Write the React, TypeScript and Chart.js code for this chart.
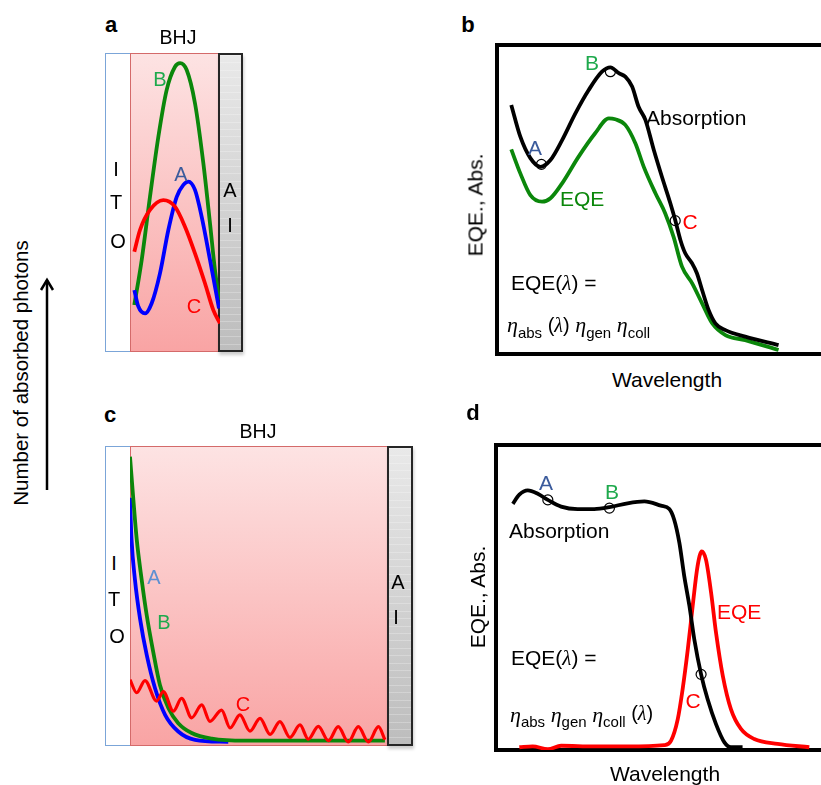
import React, { useEffect, useRef } from "react";
import { Chart, registerables } from "chart.js";
Chart.register(...registerables);

type P = [number, number];

// ---------- Panel a: absorbed photons vs. depth in BHJ (0 = ITO side, 100 = Al side) ----------
const aCurveB: P[] = [
  [4.8, 15.7], [13.0, 30.8], [22.2, 51.9], [31.5, 72.0], [40.7, 87.6], [50.0, 95.4],
  [55.6, 96.6], [63.0, 94.3], [72.2, 83.2], [81.5, 63.1], [88.9, 43.0], [94.4, 27.4], [98.9, 17.4],
];
const aCurveA: P[] = [
  [4.8, 20.7], [9.3, 15.2], [16.7, 12.9], [24.1, 16.3], [33.3, 26.3], [42.6, 40.8], [51.9, 51.9],
  [59.3, 55.9], [64.8, 57.0], [72.2, 54.2], [79.6, 45.3], [88.9, 30.8], [98.9, 14.6],
];
const aCurveC: P[] = [
  [4.8, 33.5], [11.1, 40.8], [22.2, 47.5], [37.0, 50.8], [50.0, 48.6], [61.1, 41.9],
  [72.2, 33.0], [83.3, 23.0], [92.6, 14.0], [100, 9.6],
];

// ---------- Panel b: EQE / absorption vs. wavelength ----------
const bAbsorption: P[] = [
  [4.4, 80.4], [7.2, 70.2], [10.3, 63.3], [13.4, 60.5], [16.5, 62.7], [20.1, 69.1], [24.2, 77.7],
  [28.3, 85.2], [32.4, 91.1], [35.0, 92.5], [37.6, 90.6], [39.6, 89.5], [41.7, 86.3], [43.7, 79.8],
  [45.8, 75.6], [48.4, 65.9], [50.9, 57.3], [53.5, 48.8], [55.0, 43.4], [56.6, 37.0], [58.1, 32.7],
  [60.2, 29.5], [61.7, 26.3], [63.3, 20.9], [65.3, 14.5], [67.4, 10.2], [70.5, 8.0], [76.6, 5.9],
  [86.9, 3.2],
];
const bEQE: P[] = [
  [4.4, 66.1], [7.2, 58.4], [10.3, 51.4], [13.9, 49.3], [16.5, 50.4], [20.1, 55.2], [25.2, 63.8],
  [30.3, 71.3], [34.5, 76.1], [36.5, 75.8], [39.6, 74.0], [42.7, 68.1], [45.3, 60.5], [48.9, 52.0],
  [51.9, 45.6], [54.5, 38.0], [57.1, 28.4], [60.2, 23.1], [63.3, 16.6], [66.4, 10.2], [70.5, 6.4],
  [76.6, 4.8], [86.9, 1.6],
];
const bMarkers: P[] = [[13.7, 61.3], [35.0, 91.1], [55.0, 43.2]];

// ---------- Panel c: absorbed photons vs. depth (thick BHJ) ----------
const cCurveB: P[] = [
  [0, 96.4], [1.3, 82.0], [2.6, 68.7], [4.5, 55.3], [6.5, 43.1], [9.0, 30.9], [11.6, 19.8],
  [14.9, 12.0], [18.7, 7.0], [23.9, 3.7], [31.7, 1.8], [44.6, 1.1], [64.0, 1.1], [98.8, 1.1],
];
const cCurveA: P[] = [
  [0, 82.6], [0.6, 68.7], [1.9, 55.3], [3.9, 42.0], [6.5, 29.8], [9.7, 18.7], [13.6, 9.8],
  [18.7, 4.2], [25.2, 1.4], [38.1, 0.7],
];
const cCurveC: P[] = [
  [0, 21.6], [2.6, 17.2], [5.8, 21.3], [10.3, 14.4], [12.9, 17.6], [16.8, 11.0], [20.0, 15.3],
  [23.9, 8.8], [27.8, 13.1], [31.0, 7.6], [35.5, 11.4], [38.8, 5.4], [42.6, 9.8], [46.5, 4.3],
  [50.4, 8.6], [54.3, 3.2], [58.1, 7.5], [62.0, 2.2], [65.9, 6.4], [69.1, 1.6], [73.0, 5.9],
  [76.9, 1.1], [80.7, 5.8], [84.6, 0.7], [88.5, 5.8], [92.4, 0.7], [96.3, 5.8], [98.8, 1.4],
];

// ---------- Panel d: EQE / absorption vs. wavelength ----------
const dAbsorption: P[] = [
  [5.2, 80.7], [7.2, 83.7], [9.8, 85.1], [12.9, 84.0], [16.0, 82.0], [20.1, 79.8], [25.2, 79.0],
  [30.3, 79.0], [35.0, 79.6], [40.6, 80.9], [45.8, 81.5], [50.9, 80.1], [53.5, 79.0], [55.0, 75.5],
  [56.6, 67.9], [58.1, 57.0], [59.7, 47.2], [61.2, 36.3], [63.3, 24.8], [65.3, 16.7], [67.9, 8.5],
  [70.5, 2.5], [72.5, 0.9], [76.1, 0.9],
];
const dEQE: P[] = [
  [7.2, 0.9], [11.3, 1.2], [16.0, 0.3], [20.1, 1.4], [30.3, 1.2], [40.6, 1.2], [51.9, 1.6],
  [54.0, 3.0], [56.1, 10.1], [57.6, 19.9], [59.2, 33.0], [60.7, 47.2], [62.2, 60.2], [63.5, 65.1],
  [64.8, 62.4], [66.4, 51.5], [67.9, 38.5], [70.0, 24.3], [72.5, 13.4], [75.6, 6.9], [79.7, 3.6],
  [86.9, 2.0], [96.7, 0.9],
];
const dMarkers: P[] = [[16.0, 82.0], [35.0, 79.3], [63.3, 24.8]];

// ---------- styling ----------
const FONT = '"Liberation Sans", Arial, Helvetica, sans-serif';
const SERIF = '"Liberation Serif", "Times New Roman", serif';
const GREEN = "#0b870b";
const BLUE = "#0000ff";
const RED = "#ff0000";
const LBL_BLUE = "#3b5b9c";
const LBL_BLUE_LIGHT = "#5c8fd2";
const LBL_GREEN = "#1ea94c";
const PAD = 12;

const line = (pts: P[], color: string, width = 3.8) => ({
  data: pts.map(([x, y]) => ({ x, y })),
  borderColor: color,
  borderWidth: width,
  pointRadius: 0,
  fill: false,
  cubicInterpolationMode: "monotone",
});
const markers = (pts: P[]) => ({
  data: pts.map(([x, y]) => ({ x, y })),
  showLine: false,
  pointRadius: 5,
  pointStyle: "circle",
  pointBorderColor: "#000",
  pointBackgroundColor: "rgba(0,0,0,0)",
  pointBorderWidth: 1.2,
});

type Area = { x: number; y: number; w: number; h: number };

function Plot({ area, datasets }: { area: Area; datasets: any[] }) {
  const ref = useRef<HTMLCanvasElement>(null);
  useEffect(() => {
    const chart = new Chart(ref.current!, {
      type: "line",
      data: { datasets },
      options: {
        animation: false,
        responsive: false,
        maintainAspectRatio: false,
        devicePixelRatio: 1,
        events: [],
        layout: { padding: PAD },
        scales: {
          x: { type: "linear", display: false, min: 0, max: 100 },
          y: { type: "linear", display: false, min: 0, max: 100 },
        },
        plugins: { legend: { display: false }, tooltip: { enabled: false } },
      } as any,
    });
    return () => chart.destroy();
  }, []);
  const w = area.w + 2 * PAD;
  const h = area.h + 2 * PAD;
  return (
    <canvas
      ref={ref}
      width={w}
      height={h}
      style={{ position: "absolute", left: area.x - PAD, top: area.y - PAD, width: w, height: h }}
    />
  );
}

function T({
  x, y, children, color = "#000", size = 20, anchor = "middle", bold = false, rotate = 0, family = FONT,
}: any) {
  const tx = anchor === "middle" ? "-50%" : "0";
  return (
    <div
      style={{
        position: "absolute",
        left: x,
        top: y,
        transform: `translate(${tx}, -50%)${rotate ? ` rotate(${rotate}deg)` : ""}`,
        transformOrigin: anchor === "middle" ? "50% 50%" : "0 50%",
        color,
        fontSize: size,
        fontWeight: bold ? "bold" : "normal",
        fontFamily: family,
        lineHeight: 1,
        whiteSpace: "nowrap",
        zIndex: 5,
      }}
    >
      {children}
    </div>
  );
}

const Eta = () => <span style={{ fontFamily: SERIF, fontStyle: "italic", fontSize: 22 }}>η</span>;
const Lam = () => <span style={{ fontFamily: SERIF, fontStyle: "italic" }}>λ</span>;
const Sub = ({ children }: any) => (
  <span style={{ fontSize: 15, verticalAlign: "-0.35em" }}>{children}</span>
);

function Box({ x, y, w, h, style }: any) {
  return (
    <div
      style={{
        position: "absolute",
        left: x,
        top: y,
        width: w,
        height: h,
        boxSizing: "border-box",
        ...style,
      }}
    />
  );
}

const itoStyle = { background: "#fff", border: "1.5px solid #7ba5d8" };
const bhjStyle = {
  background: "linear-gradient(to bottom, #fde3e3, #f9a4a4)",
  border: "1px solid #d46a6a",
};
const alStyle = {
  background:
    "repeating-linear-gradient(to bottom, rgba(255,255,255,0.25) 0px, rgba(255,255,255,0.25) 1px, rgba(0,0,0,0) 1px, rgba(0,0,0,0) 7.4px), linear-gradient(to bottom, #e9e9e9, #bdbdbd)",
  border: "2px solid #262626",
  boxShadow: "1px 3px 3px rgba(0,0,0,0.2)",
};
const frameStyle = { borderLeft: "4px solid #000", borderTop: "4px solid #000", borderBottom: "4px solid #000" };

export default function App() {
  return (
    <div
      style={{
        position: "absolute",
        left: 0,
        top: 0,
        width: 821,
        height: 785,
        overflow: "hidden",
        background: "#fff",
        fontFamily: FONT,
      }}
    >
      {/* ---------- left axis arrow ---------- */}
      <T x={21} y={373} rotate={-90} size={20.5}>Number of absorbed photons</T>
      <svg style={{ position: "absolute", left: 37, top: 270, width: 20, height: 230 }}>
        <line x1={10} y1={10} x2={10} y2={220} stroke="#000" strokeWidth={2.5} />
        <polyline points="4,20 10,10 16,20" fill="none" stroke="#000" strokeWidth={2.5} />
      </svg>

      {/* ---------- panel a ---------- */}
      <T x={111} y={25} bold size={22}>a</T>
      <T x={178} y={38} size={19.5}>BHJ</T>
      <Box x={105} y={53} w={26} h={299} style={itoStyle} />
      <Box x={130} y={53} w={89} h={299} style={bhjStyle} />
      <Box x={218} y={53} w={25} h={299} style={alStyle} />
      <Plot
        area={{ x: 130, y: 53, w: 90, h: 299 }}
        datasets={[line(aCurveC, RED), line(aCurveA, BLUE), line(aCurveB, GREEN)]}
      />
      <T x={116} y={169} size={20}>I</T>
      <T x={116} y={202} size={20}>T</T>
      <T x={118} y={241} size={20}>O</T>
      <T x={230} y={190} size={20}>A</T>
      <T x={230} y={225} size={20}>I</T>
      <T x={160} y={79} color={LBL_GREEN} size={20}>B</T>
      <T x={181} y={174} color={LBL_BLUE} size={20}>A</T>
      <T x={194} y={306} color={RED} size={20}>C</T>

      {/* ---------- panel b ---------- */}
      <T x={468} y={25} bold size={22}>b</T>
      <Box x={495} y={43} w={340} h={313} style={frameStyle} />
      <Plot
        area={{ x: 497, y: 44, w: 324, h: 311 }}
        datasets={[markers(bMarkers), line(bAbsorption, "#000"), line(bEQE, GREEN)]}
      />
      <T x={592} y={62} color={LBL_GREEN} size={21}>B</T>
      <T x={535} y={147} color={LBL_BLUE} size={21}>A</T>
      <T x={690} y={221} color={RED} size={21}>C</T>
      <T x={646} y={117} anchor="start" size={21}>Absorption</T>
      <T x={560} y={198} anchor="start" color={GREEN} size={21}>EQE</T>
      <T x={511} y={283} anchor="start" size={21}>
        EQE(<Lam />) =
      </T>
      <T x={507} y={327} anchor="start">
        <Eta /><Sub>abs</Sub> (<Lam />) <Eta /><Sub>gen</Sub> <Eta /><Sub>coll</Sub>
      </T>
      <T x={667} y={379} size={21}>Wavelength</T>
      <T x={475} y={205} rotate={-90} size={21}>EQE., Abs.</T>

      {/* ---------- panel c ---------- */}
      <T x={110} y={415} bold size={22}>c</T>
      <T x={258} y={432} size={19.5}>BHJ</T>
      <Box x={105} y={446} w={26} h={300} style={itoStyle} />
      <Box x={130} y={446} w={258} h={300} style={bhjStyle} />
      <Box x={387} y={446} w={26} h={300} style={alStyle} />
      <Plot
        area={{ x: 130, y: 446, w: 258, h: 298 }}
        datasets={[line(cCurveC, RED, 3.2), line(cCurveB, GREEN), line(cCurveA, BLUE)]}
      />
      <T x={114} y={563} size={20}>I</T>
      <T x={114} y={599} size={20}>T</T>
      <T x={117} y={636} size={20}>O</T>
      <T x={398} y={582} size={20}>A</T>
      <T x={396} y={617} size={20}>I</T>
      <T x={154} y={577} color={LBL_BLUE_LIGHT} size={20}>A</T>
      <T x={164} y={622} color={LBL_GREEN} size={20}>B</T>
      <T x={243} y={704} color={RED} size={20}>C</T>

      {/* ---------- panel d ---------- */}
      <T x={473} y={413} bold size={22}>d</T>
      <Box x={494} y={443} w={340} h={309} style={frameStyle} />
      <Plot
        area={{ x: 496, y: 445, w: 324, h: 305 }}
        datasets={[markers(dMarkers), line(dAbsorption, "#000"), line(dEQE, RED)]}
      />
      <T x={546} y={482} color={LBL_BLUE} size={21}>A</T>
      <T x={612} y={491} color={LBL_GREEN} size={21}>B</T>
      <T x={509} y={530} anchor="start" size={21}>Absorption</T>
      <T x={717} y={611} anchor="start" color={RED} size={21}>EQE</T>
      <T x={693} y={700} color={RED} size={21}>C</T>
      <T x={511} y={658} anchor="start" size={21}>
        EQE(<Lam />) =
      </T>
      <T x={510} y={716} anchor="start">
        <Eta /><Sub>abs</Sub> <Eta /><Sub>gen</Sub> <Eta /><Sub>coll</Sub>{" "}
        <span style={{ verticalAlign: "0.1em" }}>(<Lam />)</span>
      </T>
      <T x={665} y={773} size={21}>Wavelength</T>
      <T x={477} y={597} rotate={-90} size={21}>EQE., Abs.</T>
    </div>
  );
}
